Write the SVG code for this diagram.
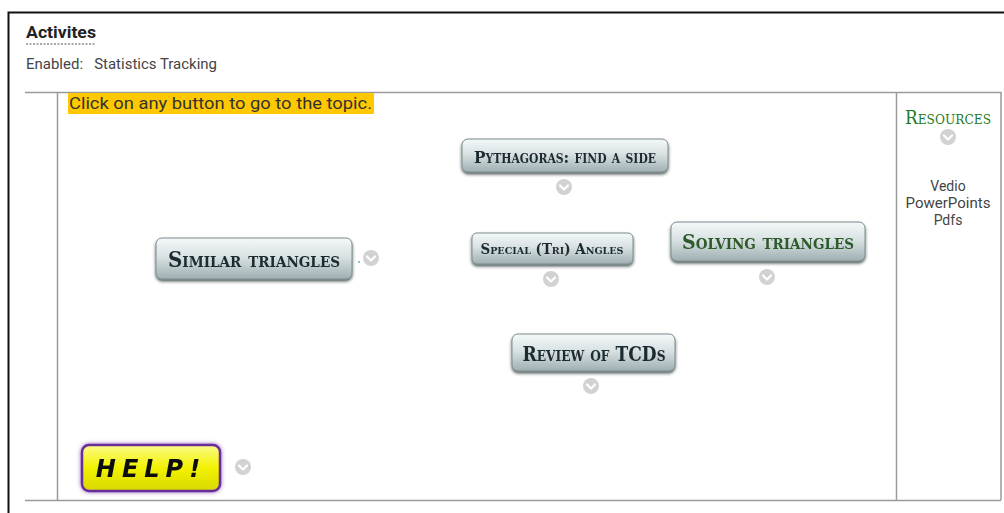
<svg xmlns="http://www.w3.org/2000/svg" width="1004" height="513" viewBox="0 0 1004 513">
  <defs>
    <linearGradient id="btnFill" x1="0" y1="0" x2="0" y2="1">
      <stop offset="0" stop-color="#f4f8f8"/>
      <stop offset="0.45" stop-color="#d9e2e3"/>
      <stop offset="1" stop-color="#9fafb2"/>
    </linearGradient>
    <linearGradient id="helpFill" x1="0" y1="0" x2="0" y2="1">
      <stop offset="0" stop-color="#fbfb8a"/>
      <stop offset="0.5" stop-color="#f2f200"/>
      <stop offset="1" stop-color="#d8d800"/>
    </linearGradient>
    <filter id="btnShadow" x="-10%" y="-20%" width="120%" height="160%">
      <feDropShadow dx="0" dy="2" stdDeviation="1.6" flood-color="#1e2a2c" flood-opacity="0.75"/>
    </filter>
    <filter id="helpGlow" x="-15%" y="-30%" width="130%" height="160%">
      <feDropShadow dx="0" dy="0" stdDeviation="2" flood-color="#7a3fb0" flood-opacity="0.8"/>
    </filter>
    <filter id="soft" x="-10%" y="-30%" width="120%" height="160%">
      <feGaussianBlur stdDeviation="0.45"/>
    </filter>
    <g id="chev">
      <circle r="8" fill="#d2d2d2"/>
      <path d="M-4,-1.5 L0,2.5 L4,-1.5" fill="none" stroke="#ffffff" stroke-width="2.2" stroke-linecap="round" stroke-linejoin="round"/>
    </g>
  </defs>
  <style>
    .ui { font-family: Roboto, "Liberation Sans", sans-serif; }
    .btn { fill: url(#btnFill); stroke: #7d8d90; stroke-width: 1; filter: url(#btnShadow); }
    .lbl { font-family: "DejaVu Serif Condensed", "Liberation Serif", serif; font-variant: small-caps; font-weight: bold; fill: #1c2a30; text-anchor: middle; filter: url(#soft); }
    .grid { stroke: #9a9a9a; stroke-width: 1.5; fill: none; }
    .side { font-family: Roboto, "Liberation Sans", sans-serif; font-size: 14px; fill: #444; text-anchor: middle; }
  </style>

  <rect width="1004" height="513" fill="#ffffff"/>

  <!-- outer frame -->
  <path d="M8.5,513 V12.5 H1004" fill="none" stroke="#111" stroke-width="2"/>

  <!-- header -->
  <text class="ui" x="26" y="38" font-size="16" font-weight="bold" fill="#222" textLength="70" lengthAdjust="spacingAndGlyphs">Activites</text>
  <line x1="26" y1="44" x2="96" y2="44" stroke="#555" stroke-width="1" stroke-dasharray="2,1.5"/>
  <text class="ui" x="26" y="69" font-size="14" fill="#444" xml:space="preserve" textLength="191" lengthAdjust="spacingAndGlyphs">Enabled:   Statistics Tracking</text>

  <!-- table lines -->
  <path class="grid" d="M25,92.5 H1001 V500"/>
  <path class="grid" d="M25,500.5 H1001"/>
  <line class="grid" x1="57.5" y1="92" x2="57.5" y2="500"/>
  <line class="grid" x1="896.5" y1="92" x2="896.5" y2="500"/>

  <!-- instruction -->
  <rect x="68" y="93" width="306" height="21" fill="#ffc800"/>
  <text class="ui" x="69" y="109" font-size="17" fill="#333" textLength="303" lengthAdjust="spacingAndGlyphs">Click on any button to go to the topic.</text>

  <!-- topic buttons -->
  <g id="pythagoras">
    <rect class="btn" x="462" y="139" width="206" height="33" rx="6"/>
    <text class="lbl" x="565" y="163" font-size="17" textLength="182" lengthAdjust="spacingAndGlyphs">Pythagoras: find a side</text>
    <use href="#chev" x="564" y="187"/>
  </g>

  <g id="similar">
    <rect class="btn" x="156" y="238" width="196" height="41" rx="6"/>
    <text class="lbl" x="254" y="267" font-size="22" textLength="172" lengthAdjust="spacingAndGlyphs">Similar triangles</text>
    <circle cx="359" cy="262" r="1" fill="#6aa8c8"/>
    <use href="#chev" x="371" y="258"/>
  </g>

  <g id="special">
    <rect class="btn" x="472" y="233" width="161" height="31" rx="5"/>
    <text class="lbl" x="552" y="254" font-size="14" textLength="143" lengthAdjust="spacingAndGlyphs">Special (Tri) Angles</text>
    <use href="#chev" x="551" y="279"/>
  </g>

  <g id="solving">
    <rect class="btn" x="671" y="222" width="194" height="39" rx="6"/>
    <text class="lbl" x="768" y="249" font-size="21" textLength="172" lengthAdjust="spacingAndGlyphs" style="fill:#2e5a2c">Solving triangles</text>
    <use href="#chev" x="767" y="277"/>
  </g>

  <g id="review">
    <rect class="btn" x="512" y="334" width="163" height="37" rx="6"/>
    <text class="lbl" x="594" y="361" font-size="21" textLength="143" lengthAdjust="spacingAndGlyphs">Review of TCDs</text>
    <use href="#chev" x="591" y="386"/>
  </g>

  <g id="help">
    <rect x="82" y="445" width="138" height="46" rx="7" fill="url(#helpFill)" stroke="#6a2f9a" stroke-width="2.5" filter="url(#helpGlow)"/>
    <text x="151" y="477" font-family="'DejaVu Sans', sans-serif" font-size="24" font-weight="bold" font-style="italic" fill="#111" text-anchor="middle" letter-spacing="6" filter="url(#soft)">HELP!</text>
    <use href="#chev" x="243" y="467"/>
  </g>

  <!-- side column -->
  <g id="resources">
    <text x="948" y="124" font-family="'DejaVu Serif Condensed', 'Liberation Serif', serif" font-variant="small-caps" font-size="18" fill="#1f7a1f" text-anchor="middle" textLength="86" lengthAdjust="spacingAndGlyphs">Resources</text>
    <use href="#chev" x="948" y="137"/>
    <text class="side" x="948" y="191">Vedio</text>
    <text class="side" x="948" y="208" textLength="85" lengthAdjust="spacingAndGlyphs">PowerPoints</text>
    <text class="side" x="948" y="225">Pdfs</text>
  </g>
</svg>
